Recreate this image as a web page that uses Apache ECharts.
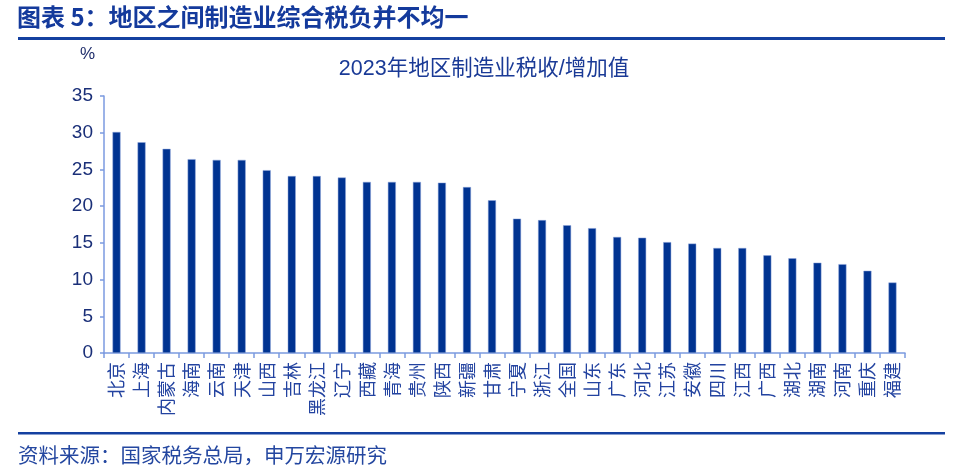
<!DOCTYPE html>
<html>
<head>
<meta charset="utf-8">
<script src="https://cdn.jsdelivr.net/npm/echarts@6/dist/echarts.min.js"></script>
<style>html,body{margin:0;padding:0;background:#fff;}#c{width:960px;height:471px;}</style>
</head>
<body>
<div id="c"></div>
<script>
const categories = ['北京','上海','内蒙古','海南','云南','天津','山西','吉林','黑龙江','辽宁','西藏','青海','贵州','陕西','新疆','甘肃','宁夏','浙江','全国','山东','广东','河北','江苏','安徽','四川','江西','广西','湖北','湖南','河南','重庆','福建'];
const values = [30.1,28.7,27.8,26.4,26.3,26.3,24.9,24.1,24.1,23.9,23.3,23.3,23.3,23.2,22.6,20.8,18.3,18.1,17.4,17.0,15.8,15.7,15.1,14.9,14.3,14.3,13.3,12.9,12.3,12.1,11.2,9.6];
const yTicks = [0,5,10,15,20,25,30,35];
const FONT = '"Liberation Sans", "Noto Sans CJK SC", sans-serif';
const CJK = '"Noto Sans CJK SC", sans-serif';
const chart = echarts.init(document.getElementById('c'));
chart.setOption({
  animation: false,
  textStyle: {fontFamily: FONT},
  grid: {left: 104, right: 55, top: 96, bottom: 118},
  graphic: [
    {type: 'text', left: 17, top: 5, style: {text: '图表 5：地区之间制造业综合税负并不均一', font: 'bold 24px ' + CJK, fill: '#143a9c'}},
    {type: 'rect', shape: {x: 18, y: 37, width: 927, height: 3}, style: {fill: '#1440a0'}},
    {type: 'text', left: 80, top: 46, style: {text: '%', font: '17px ' + FONT, fill: '#1f2d6b'}},
    {type: 'rect', shape: {x: 18, y: 432, width: 927, height: 2.5}, style: {fill: '#1440a0'}},
    {type: 'text', left: 18, top: 445, style: {text: '资料来源：国家税务总局，申万宏源研究', font: '20.5px ' + CJK, fill: '#2447a0'}}
  ],
  title: {
    text: '2023年地区制造业税收/增加值',
    left: 479, textAlign: 'center', top: 53,
    textStyle: {fontSize: 21.5, fontWeight: 'normal', color: '#1a3a96', fontFamily: FONT}
  },
  xAxis: {
    type: 'category',
    data: categories,
    axisLine: {lineStyle: {color: '#7b9ae0', width: 1.5}},
    axisTick: {show: true, length: 5, lineStyle: {color: '#7b9ae0', width: 1.5}},
    axisLabel: {
      interval: 0, rotate: 90, color: '#2343a0', fontSize: 18, margin: 9, fontFamily: CJK
    }
  },
  yAxis: {
    type: 'value', min: 0, max: 35, interval: 5,
    splitLine: {show: false},
    axisLine: {show: true, lineStyle: {color: '#7b9ae0', width: 1.5}},
    axisTick: {show: true, length: 4, lineStyle: {color: '#7b9ae0', width: 1.5}},
    axisLabel: {color: '#1a2f78', fontSize: 19, margin: 11, fontFamily: FONT, formatter: v => yTicks.includes(v) ? String(v) : ''}
  },
  series: [{
    type: 'bar',
    data: values,
    barWidth: 8,
    itemStyle: {color: '#003391', borderColor: '#8fa6dc', borderWidth: 0.5}
  }]
});
</script>
</body>
</html>
